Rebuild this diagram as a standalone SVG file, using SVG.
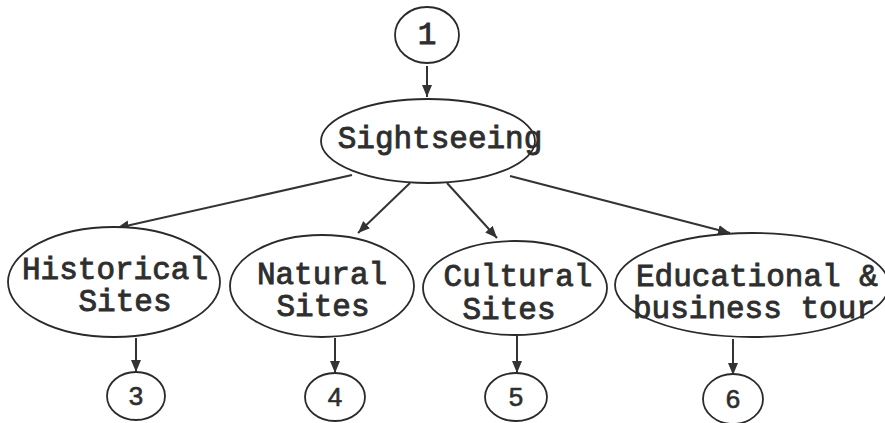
<svg xmlns="http://www.w3.org/2000/svg" width="885" height="423" viewBox="0 0 885 423">
  <style>
    .node { fill: #fff; stroke: #2a2a2a; stroke-width: 1.8; }
    .label { font-family: "Liberation Mono", "Courier New", monospace; font-size: 31px; fill: #2e2e2e; stroke: #2e2e2e; stroke-width: 0.9; text-anchor: middle; }
    .num { font-family: "Liberation Sans", Arial, sans-serif; font-size: 26px; fill: #2e2e2e; stroke: #2e2e2e; stroke-width: 0.6; text-anchor: middle; }
    .edge { stroke: #333; stroke-width: 2; fill: none; marker-end: url(#arrow); }
  </style>
  <defs>
    <marker id="arrow" viewBox="0 0 12 10" refX="12" refY="5" markerWidth="12" markerHeight="10" markerUnits="userSpaceOnUse" orient="auto">
      <path d="M0,0 L12,5 L0,10 Z" fill="#333"/>
    </marker>
  </defs>
  <rect width="885" height="423" fill="#fff"/>

  <!-- arrows between the levels -->
  <g id="connectors">
    <line class="edge" x1="427" y1="66" x2="427" y2="97"/>
    <line class="edge" x1="352" y1="175" x2="117" y2="228"/>
    <line class="edge" x1="410" y1="183" x2="358" y2="233"/>
    <line class="edge" x1="447" y1="183" x2="497" y2="238"/>
    <line class="edge" x1="510" y1="176" x2="730" y2="233"/>
    <line class="edge" x1="136" y1="338" x2="136" y2="372"/>
    <line class="edge" x1="335" y1="338" x2="335" y2="373"/>
    <line class="edge" x1="517" y1="336" x2="517" y2="373"/>
    <line class="edge" x1="733" y1="339" x2="733" y2="375"/>
  </g>

  <g id="n1">
    <ellipse class="node" cx="427" cy="35" rx="32" ry="28"/>
    <text class="label" x="427" y="44">1</text>
  </g>
  <g id="sightseeing">
    <ellipse class="node" cx="428" cy="141" rx="107" ry="42"/>
    <text class="label" x="440" y="148">Sightseeing</text>
  </g>
  <g id="historical">
    <ellipse class="node" cx="114" cy="282" rx="106" ry="55"/>
    <text class="label" x="115" y="279">Historical</text>
    <text class="label" x="125" y="311">Sites</text>
  </g>
  <g id="natural">
    <ellipse class="node" cx="322" cy="286" rx="92" ry="51"/>
    <text class="label" x="322" y="284">Natural</text>
    <text class="label" x="323" y="316">Sites</text>
  </g>
  <g id="cultural">
    <ellipse class="node" cx="515" cy="288" rx="92" ry="47"/>
    <text class="label" x="518" y="286">Cultural</text>
    <text class="label" x="509" y="319">Sites</text>
  </g>
  <g id="educational">
    <ellipse class="node" cx="752" cy="285" rx="137" ry="52"/>
    <text class="label" x="636" y="286" style="text-anchor:start">Educational &amp;</text>
    <text class="label" x="633" y="318" style="text-anchor:start">business tour</text>
  </g>
  <g id="n3">
    <ellipse class="node" cx="136" cy="396" rx="29" ry="24"/>
    <text class="num" x="136" y="405">3</text>
  </g>
  <g id="n4">
    <ellipse class="node" cx="335" cy="397" rx="30" ry="24"/>
    <text class="num" x="335" y="406">4</text>
  </g>
  <g id="n5">
    <ellipse class="node" cx="516" cy="397" rx="31" ry="24"/>
    <text class="num" x="516" y="406">5</text>
  </g>
  <g id="n6">
    <ellipse class="node" cx="733" cy="399" rx="30" ry="25"/>
    <text class="num" x="733" y="408">6</text>
  </g>
</svg>
